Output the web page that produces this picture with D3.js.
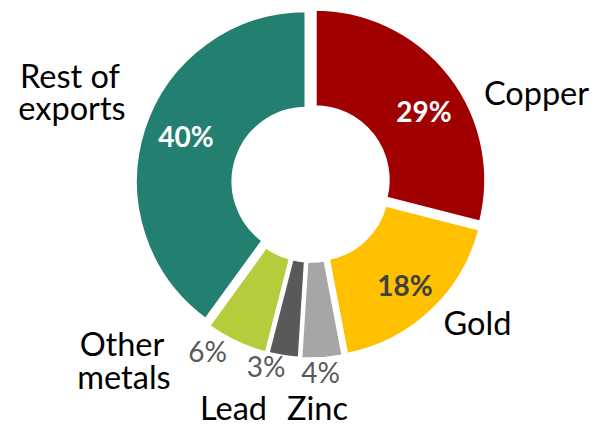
<!DOCTYPE html>
<html>
<head>
<meta charset="utf-8">
<script src="https://cdn.jsdelivr.net/npm/d3@7"></script>
<style>
  html, body { margin: 0; padding: 0; background: #fff; }
  svg { display: block; }
  text { font-family: Lato, "Open Sans", sans-serif; }
</style>
</head>
<body>
<svg id="chart" width="599" height="426"></svg>
<script>
// Data
const categories = ["Copper", "Gold", "Zinc", "Lead", "Other metals", "Rest of exports"];
const shares = [29, 18, 4, 3, 6, 40];
const colors = ["#A00000", "#FFC000", "#A6A6A6", "#595959", "#B5CC3D", "#237F6F"];
const valueLabels = ["29%", "18%", "4%", "3%", "6%", "40%"];

const width = 599, height = 426;
const cx = 311, cy = 183;
const outerR = 171, innerR = 73, explode = 5;

const svg = d3.select("#chart");
const g = svg.append("g").attr("transform", `translate(${cx},${cy})`);

const pie = d3.pie().sort(null).value(d => d.value).startAngle(0).endAngle(2 * Math.PI);
const arc = d3.arc().innerRadius(innerR).outerRadius(outerR);

const data = categories.map((c, i) => ({ name: c, value: shares[i], color: colors[i], label: valueLabels[i] }));
const arcs = pie(data);

g.selectAll("path.slice")
  .data(arcs)
  .join("path")
  .attr("class", "slice")
  .attr("d", arc)
  .attr("fill", d => d.data.color)
  .attr("stroke", "#fff")
  .attr("stroke-width", 3.5)
  .attr("stroke-linejoin", "miter")
  .attr("transform", d => {
    const a = (d.startAngle + d.endAngle) / 2;
    return `translate(${explode * Math.sin(a)},${-explode * Math.cos(a)})`;
  });

// Value labels (position, anchor, style)
const valuePos = {
  "Copper": { x: 424, y: 122, color: "#fff", weight: "bold" },
  "Gold": { x: 405, y: 296, color: "#404040", weight: "bold" },
  "Zinc": { x: 320.5, y: 383, color: "#595959", weight: "normal" },
  "Lead": { x: 266, y: 377, color: "#595959", weight: "normal" },
  "Other metals": { x: 207.5, y: 362, color: "#595959", weight: "normal" },
  "Rest of exports": { x: 186, y: 147, color: "#fff", weight: "bold" }
};

svg.selectAll("text.val")
  .data(data)
  .join("text")
  .attr("class", "val")
  .attr("x", d => valuePos[d.name].x)
  .attr("y", d => valuePos[d.name].y)
  .attr("text-anchor", "middle")
  .attr("font-size", 28)
  .attr("font-weight", d => valuePos[d.name].weight)
  .attr("fill", d => valuePos[d.name].color)
  .text(d => d.label);

// Category labels (one text element per line)
const catLines = [
  { text: "Copper", x: 536.5, y: 105 },
  { text: "Gold", x: 477.5, y: 335 },
  { text: "Zinc", x: 317.5, y: 420 },
  { text: "Lead", x: 233.5, y: 420 },
  { text: "Other", x: 122, y: 356 },
  { text: "metals", x: 124, y: 389 },
  { text: "Rest of", x: 70, y: 88 },
  { text: "exports", x: 72, y: 120 }
];

svg.selectAll("text.cat")
  .data(catLines)
  .join("text")
  .attr("class", "cat")
  .attr("text-anchor", "middle")
  .attr("font-size", 32.5)
  .attr("fill", "#000")
  .attr("x", d => d.x)
  .attr("y", d => d.y)
  .text(d => d.text);
</script>
</body>
</html>
